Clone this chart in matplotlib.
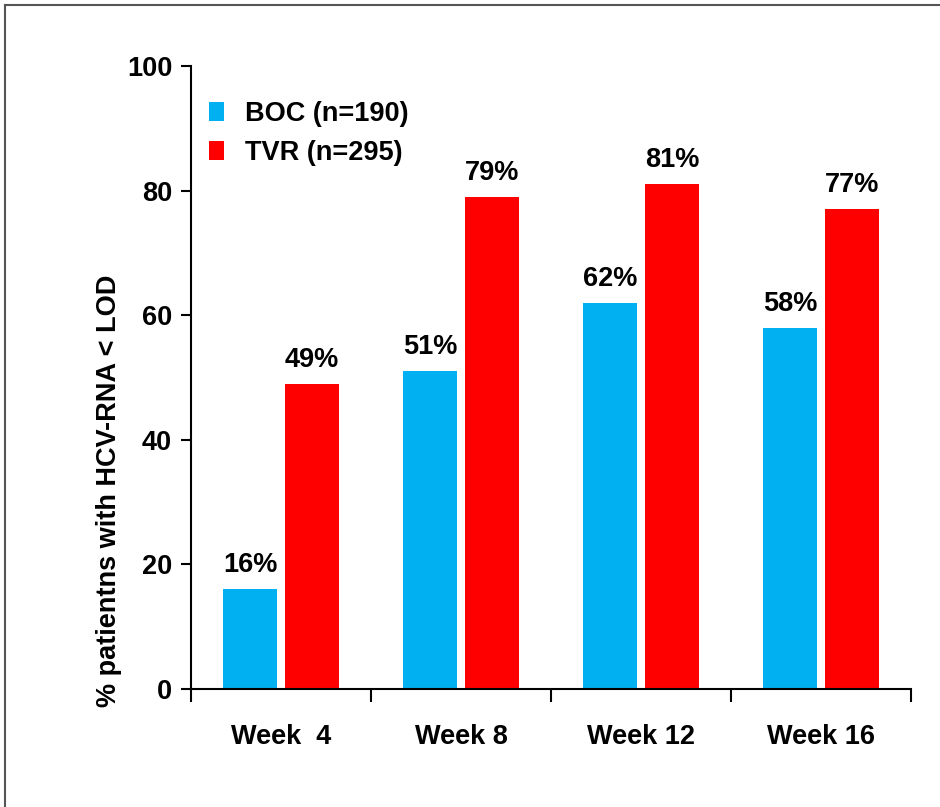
import matplotlib
matplotlib.use("Agg")
import matplotlib.pyplot as plt
import numpy as np
from matplotlib.lines import Line2D

plt.rcParams['font.family'] = ['Liberation Sans', 'DejaVu Sans']
plt.rcParams['font.weight'] = 'bold'

weeks = ["Week  4", "Week 8", "Week 12", "Week 16"]
boc_values = [16, 51, 62, 58]
tvr_values = [49, 79, 81, 77]
series_names = ["BOC (n=190)", "TVR (n=295)"]
y_ticks = [0, 20, 40, 60, 80, 100]

BLUE = "#00B0F0"
RED = "#FF0000"
FS = 19.5

W, H = 940, 807
fig = plt.figure(figsize=(W / 100, H / 100), dpi=100)
ax = fig.add_axes([191 / W, 1 - 689 / H, 720 / W, (689 - 66) / H])

x = np.arange(len(weeks))
bw = 0.305
off = 0.172
b1 = ax.bar(x - off, boc_values, bw, color=BLUE, label=series_names[0])
b2 = ax.bar(x + off, tvr_values, bw, color=RED, label=series_names[1])

for bars, vals in ((b1, boc_values), (b2, tvr_values)):
    for rect, v in zip(bars, vals):
        ax.annotate(f"{v}%", (rect.get_x() + rect.get_width() / 2, v),
                    xytext=(0, 8), textcoords="offset points",
                    ha="center", va="bottom", fontsize=FS, fontweight="bold")

ax.set_xlim(-0.5, len(weeks) - 0.5)
ax.set_ylim(0, 100)
ax.set_yticks(y_ticks)
ax.set_yticklabels([str(t) for t in y_ticks], fontsize=FS, fontweight="bold")
ax.set_xticks(x)
ax.set_xticklabels(weeks, fontsize=FS, fontweight="bold")
ax.set_xticks(np.arange(-0.5, len(weeks)), minor=True)
ax.tick_params(axis="x", which="major", length=0, pad=25)
ax.tick_params(axis="x", which="minor", length=9, width=1.5, direction="out")
ax.tick_params(axis="y", length=7.5, width=1.5, pad=6)

for s in ("top", "right"):
    ax.spines[s].set_visible(False)
for s in ("left", "bottom"):
    ax.spines[s].set_linewidth(1.5)

leg = ax.legend(loc="upper left", bbox_to_anchor=(0.025, 0.944), frameon=False,
                prop={"size": FS, "weight": "bold"}, handlelength=0.55,
                handleheight=0.7, handletextpad=0.78, labelspacing=0.48,
                borderpad=0, borderaxespad=0)

fig.text(109 / W, 1 - 491 / H, "% patientns with HCV-RNA < LOD", rotation=90,
         ha="center", va="center", fontsize=FS, fontweight="bold")

# page frame along the top and left edges
fig.add_artist(Line2D([5 / W, 1.0], [1 - 5 / H, 1 - 5 / H], color="#555555",
                      lw=1.5, transform=fig.transFigure))
fig.add_artist(Line2D([5 / W, 5 / W], [0.0, 1 - 5 / H], color="#555555",
                      lw=1.5, transform=fig.transFigure))

fig.savefig("out.png", dpi=100, facecolor="white")
